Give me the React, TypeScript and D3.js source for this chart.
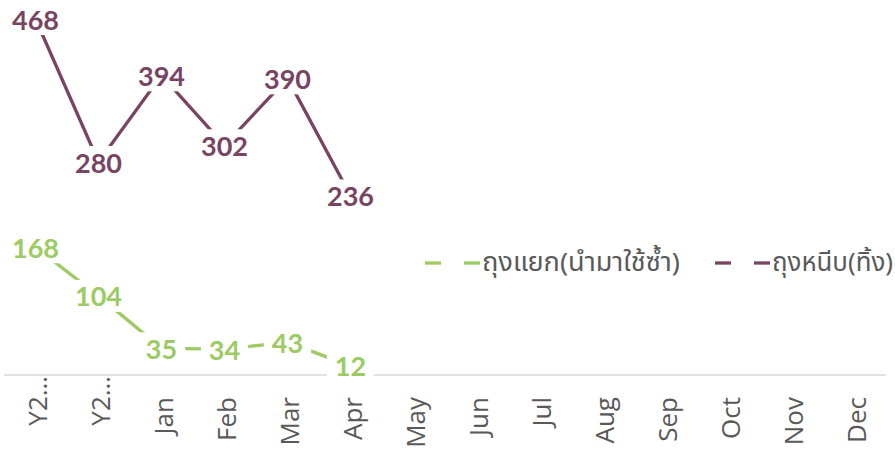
import React, { useEffect, useRef } from "react";
import * as d3 from "d3";

const categories = ["Y2…", "Y2…", "Jan", "Feb", "Mar", "Apr", "May", "Jun", "Jul", "Aug", "Sep", "Oct", "Nov", "Dec"];
const seriesNames = ["ถุงแยก(นำมาใช้ซ้ำ)", "ถุงหนีบ(ทิ้ง)"];
const reusableBags = [168, 104, 35, 34, 43, 12];
const disposableBags = [468, 280, 394, 302, 390, 236];
const seriesColors = ["#9bcb62", "#794462"];

const W = 895;
const H = 454;

export default function App() {
  const ref = useRef<SVGSVGElement | null>(null);

  useEffect(() => {
    const svg = d3.select(ref.current);
    svg.selectAll("*").remove();

    const x = d3.scaleBand<number>().domain(d3.range(categories.length)).range([4, 886]).padding(0);
    const y = d3.scaleLinear().domain([0, 493]).range([375, 0]);
    const cx = (i: number) => (x(i) as number) + x.bandwidth() / 2;

    // axis line
    svg.append("line").attr("x1", 4).attr("x2", 886).attr("y1", 375).attr("y2", 375)
      .attr("stroke", "#d9d9d9").attr("stroke-width", 1.5);

    // category labels
    categories.forEach((c, i) => {
      const ay = c.startsWith("Y2") ? 376 : 397;
      svg.append("text")
        .attr("transform", `translate(${cx(i) + 1},${ay}) rotate(-90)`)
        .attr("text-anchor", "end")
        .attr("dominant-baseline", "central")
        .attr("font-family", "'Open Sans', sans-serif")
        .attr("font-size", 26)
        .attr("fill", "#595959")
        .text(c);
    });

    const allSeries = [reusableBags, disposableBags];
    const line = d3.line<number>().x((_, i) => cx(i)).y((d) => y(d));

    allSeries.forEach((vals, s) => {
      svg.append("path").attr("d", line(vals) as string).attr("fill", "none")
        .attr("stroke", seriesColors[s]).attr("stroke-width", 3.3);
    });

    allSeries.forEach((vals, s) => {
      vals.forEach((v, i) => {
        const g = svg.append("g");
        const rect = g.append("rect").attr("fill", "white");
        const t = g.append("text")
          .attr("x", cx(i))
          .attr("y", y(v))
          .attr("text-anchor", "middle")
          .attr("dominant-baseline", "central")
          .attr("font-family", "Lato, 'Open Sans', sans-serif")
          .attr("font-weight", "bold")
          .attr("font-size", 27)
          .attr("fill", seriesColors[s])
          .text(String(v));
        const bb = (t.node() as SVGTextElement).getBBox();
        rect.attr("x", bb.x - 8).attr("y", y(v) - 16).attr("width", bb.width + 16).attr("height", 32);
      });
    });

    // legend
    const legendX = [425, 715];
    const legendTextLen = [198, 121];
    seriesNames.forEach((name, s) => {
      const lx = legendX[s];
      const ly = 263;
      [0, 39].forEach((off) => {
        svg.append("line").attr("x1", lx + off).attr("x2", lx + off + 16).attr("y1", ly).attr("y2", ly)
          .attr("stroke", seriesColors[s]).attr("stroke-width", 3.3);
      });
      svg.append("text")
        .attr("x", lx + 57)
        .attr("y", ly)
        .attr("dominant-baseline", "central")
        .attr("font-family", "'Noto Sans Thai', 'Leelawadee UI', Tahoma, 'Open Sans', sans-serif")
        .attr("font-size", 26)
        .attr("textLength", legendTextLen[s])
        .attr("lengthAdjust", "spacingAndGlyphs")
        .attr("fill", "#595959")
        .text(name);
    });
  }, []);

  return (
    <svg ref={ref} width={W} height={H} style={{ position: "absolute", left: 0, top: 0, background: "white" }} />
  );
}
